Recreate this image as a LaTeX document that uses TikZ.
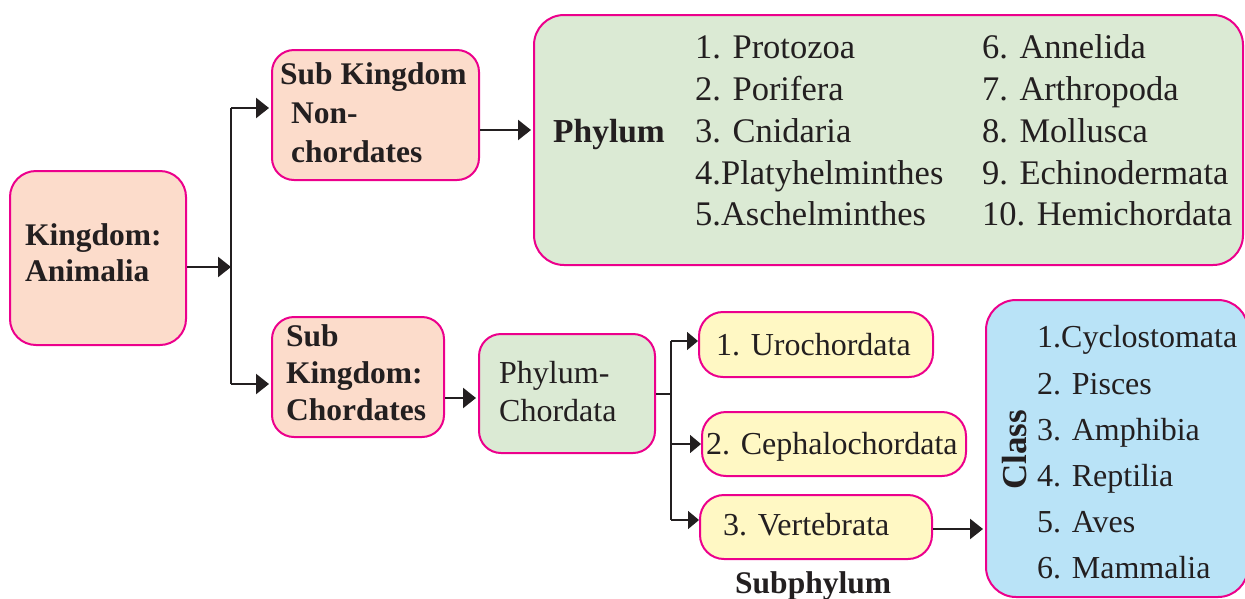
\documentclass[tikz,border=0pt]{standalone}
\usepackage{fontspec}
\setmainfont{Liberation Serif}[Ligatures=TeX]
\usetikzlibrary{arrows.meta}
\definecolor{bord}{HTML}{EC008C}
\definecolor{peach}{HTML}{FCDCCB}
\definecolor{mint}{HTML}{DBEAD4}
\definecolor{lemon}{HTML}{FFF8C4}
\definecolor{sky}{HTML}{B9E3F7}
\definecolor{ink}{HTML}{231F20}
\begin{document}
\begin{tikzpicture}[x=1pt,y=-1pt,
  box/.style={draw=bord, line width=2pt, rounded corners=22pt, inner sep=0pt},
  arr/.style={-{Triangle[length=13pt,width=20pt]}, line width=2.4pt, draw=ink, shorten >=2pt},
  thinarr/.style={-{Triangle[length=11pt,width=18pt]}, line width=1.5pt, draw=ink},
  wire/.style={line width=2.4pt, draw=ink},
  thinwire/.style={line width=1.5pt, draw=ink},
  lbl/.style={anchor=base west, inner sep=0pt, text=ink, font=\fontsize{32}{38}\rmfamily\selectfont},
  big/.style={anchor=base west, inner sep=0pt, text=ink, font=\fontsize{34.5}{40}\rmfamily\selectfont},
  cls/.style={anchor=base west, inner sep=0pt, text=ink, font=\fontsize{32}{38}\rmfamily\selectfont},
  bl/.style={anchor=base west, inner sep=0pt, text=ink, font=\fontsize{31.5}{38}\rmfamily\selectfont\bfseries}]
\useasboundingbox (0,0) rectangle (1245,598);

% boxes
\node[box, fill=peach, rounded corners=26pt, minimum width=176pt, minimum height=174pt] (king) at (98,258) {};
\node[box, fill=peach, minimum width=207pt, minimum height=130pt] (nonch) at (375.5,115) {};
\node[box, fill=peach, minimum width=172pt, minimum height=120pt] (chord) at (358,377) {};
\node[box, fill=mint, rounded corners=30pt, minimum width=709pt, minimum height=250pt] (phy) at (888.5,140) {};
\node[box, fill=mint, minimum width=176pt, minimum height=119pt] (pchord) at (567,393.5) {};
\node[box, fill=lemon, rounded corners=24pt, minimum width=234pt, minimum height=65pt] (uro) at (816,344.5) {};
\node[box, fill=lemon, rounded corners=24pt, minimum width=264pt, minimum height=64pt] (ceph) at (834,444) {};
\node[box, fill=lemon, rounded corners=24pt, minimum width=232pt, minimum height=64pt] (vert) at (816,527) {};
\node[box, fill=sky, rounded corners=30pt, minimum width=262pt, minimum height=297pt] (cls) at (1117,448.5) {};

% texts
\node[bl] (t1) at (25,245) {Kingdom:};
\node[bl] (t2) at (25,281) {Animalia};
\node[bl] (t3) at (280,84) {Sub Kingdom};
\node[bl] (t4) at (291,123) {Non-};
\node[bl] (t5) at (291,162) {chordates};
\node[bl] (t6) at (286,346) {Sub};
\node[bl] (t7) at (286,383) {Kingdom:};
\node[bl] (t8) at (286,420) {Chordates};
\node[bl, font=\fontsize{33.5}{40}\rmfamily\selectfont\bfseries] (t9) at (553,142) {Phylum};
\node[big] (p1) at (695,58) {1. Protozoa};
\node[big] (p2) at (695,100) {2. Porifera};
\node[big] (p3) at (695,142) {3. Cnidaria};
\node[big] (p4) at (695,184) {4.Platyhelminthes};
\node[big] (p5) at (695,225) {5.Aschelminthes};
\node[big] (p6) at (982,58) {6. Annelida};
\node[big] (p7) at (982,100) {7. Arthropoda};
\node[big] (p8) at (982,142) {8. Mollusca};
\node[big] (p9) at (982,184) {9. Echinodermata};
\node[big] (p10) at (982,225) {10. Hemichordata};
\node[lbl] (c1) at (499,383) {Phylum-};
\node[lbl] (c2) at (499,421) {Chordata};
\node[lbl] (s1) at (716,355) {1. Urochordata};
\node[lbl] (s2) at (706,454) {2. Cephalochordata};
\node[lbl] (s3) at (723,535) {3. Vertebrata};
\node[bl] (sub) at (735,593) {Subphylum};
\node[inner sep=0pt, text=ink, rotate=90, font=\fontsize{35}{40}\rmfamily\selectfont\bfseries] (ctitle) at (1015,450) {Class};
\node[cls] (k1) at (1037,347) {1.Cyclostomata};
\node[cls] (k2) at (1037,394) {2. Pisces};
\node[cls] (k3) at (1037,440) {3. Amphibia};
\node[cls] (k4) at (1037,486) {4. Reptilia};
\node[cls] (k5) at (1037,532) {5. Aves};
\node[cls] (k6) at (1037,578) {6. Mammalia};

% connectors
\coordinate (j1) at (231,267);
\coordinate (j1t) at (231,108);
\coordinate (j1b) at (231,384);
\draw[arr, shorten >=0pt] (king.east |- j1) -- (j1);
\draw[wire] (j1t) -- (j1b);
\draw[arr] (j1t) -- (nonch.west |- j1t);
\draw[arr] (j1b) -- (chord.west |- j1b);
\coordinate (a2) at (0,130);
\draw[arr] (nonch.east |- a2) -- (phy.west |- a2);
\coordinate (a3) at (0,398);
\draw[arr] (chord.east |- a3) -- (pchord.west |- a3);

\coordinate (j2) at (671,394);
\coordinate (j2t) at (671,341);
\coordinate (j2m) at (671,444);
\coordinate (j2b) at (671,520);
\draw[thinwire] (pchord.east |- j2) -- (j2);
\draw[thinwire] (j2t) -- (j2b);
\draw[thinarr] (j2t) -- (uro.west |- j2t);
\draw[thinarr] (j2m) -- (ceph.west |- j2m);
\draw[thinarr] (j2b) -- (vert.west |- j2b);
\coordinate (a4) at (0,529);
\draw[arr] (vert.east |- a4) -- (cls.west |- a4);
\end{tikzpicture}
\end{document}
